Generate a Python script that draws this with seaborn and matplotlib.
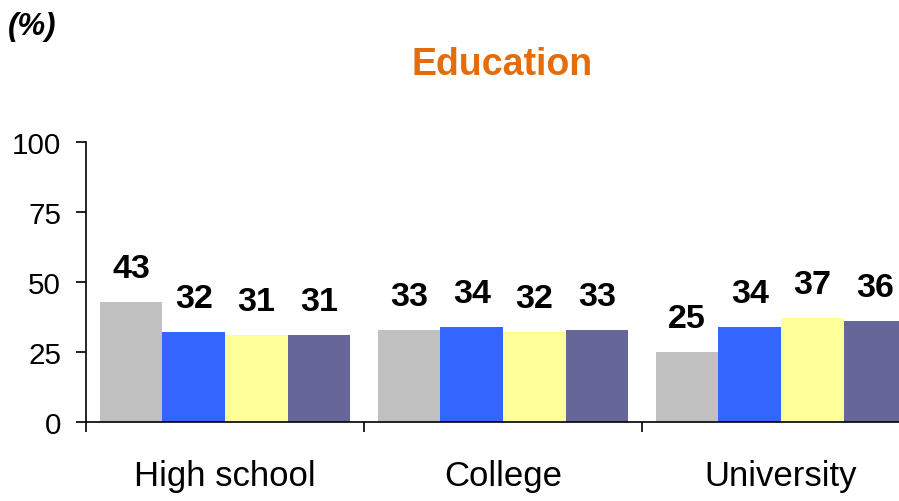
import matplotlib
matplotlib.use("Agg")
import matplotlib.pyplot as plt
import seaborn as sns
import pandas as pd
from matplotlib.ticker import FixedLocator

categories = ["High school", "College", "University"]
series_names = ["Series 1", "Series 2", "Series 3", "Series 4"]
series_values = [
    [43, 33, 25],
    [32, 34, 34],
    [31, 32, 37],
    [31, 33, 36],
]
colors = ["#C0C0C0", "#3366FF", "#FFFF99", "#666699"]
y_ticks = [0, 25, 50, 75, 100]

rows = []
for name, vals in zip(series_names, series_values):
    for cat, v in zip(categories, vals):
        rows.append({"category": cat, "series": name, "value": v})
df = pd.DataFrame(rows)

sns.set_style("white")
plt.rcParams["font.family"] = ["Liberation Sans", "DejaVu Sans"]
plt.rcParams["text.color"] = "black"
plt.rcParams["xtick.color"] = "black"
plt.rcParams["ytick.color"] = "black"
plt.rcParams["axes.labelcolor"] = "black"

fig = plt.figure(figsize=(8.99, 5.02), dpi=100)
ax = fig.add_axes([86 / 899, (502 - 423) / 502, 834 / 899, 280 / 502])

sns.barplot(data=df, x="category", y="value", hue="series", order=categories,
            hue_order=series_names, palette=colors, width=0.9, gap=0,
            saturation=1, legend=False, ax=ax, linewidth=0)

for cont in ax.containers:
    ax.bar_label(cont, fmt="%d", padding=13, fontsize=24.5, fontweight="bold",
                 color="black")

ax.set_xlim(-0.5, 2.5)
ax.set_ylim(0, 100)
ax.set_yticks(y_ticks)
ax.set_yticklabels([str(t) for t in y_ticks], fontsize=21.3)
ax.tick_params(axis="y", direction="out", length=7, width=1.2, color="black",
               labelcolor="black", pad=11, left=True)
ax.set_xticks(range(len(categories)))
ax.set_xticklabels(categories, fontsize=25)
ax.tick_params(axis="x", which="major", length=0, pad=27, labelcolor="black")
ax.xaxis.set_minor_locator(FixedLocator([-0.5, 0.5, 1.5, 2.5]))
ax.tick_params(axis="x", which="minor", direction="out", length=7, width=1.2,
               color="black", bottom=True)
ax.set_xlabel("")
ax.set_ylabel("")

for s in ["top", "right"]:
    ax.spines[s].set_visible(False)
for s in ["left", "bottom"]:
    ax.spines[s].set_color("black")
    ax.spines[s].set_linewidth(1.2)

fig.text(502 / 899, 1 - 65 / 502, "Education", ha="center", va="center",
         fontsize=27, fontweight="bold", color="#E46C0A")
fig.text(8 / 899, 1 - 27 / 502, "(%)", ha="left", va="center",
         fontsize=22.5, fontweight="bold", fontstyle="italic", color="black")

fig.savefig("out.png", dpi=100)
